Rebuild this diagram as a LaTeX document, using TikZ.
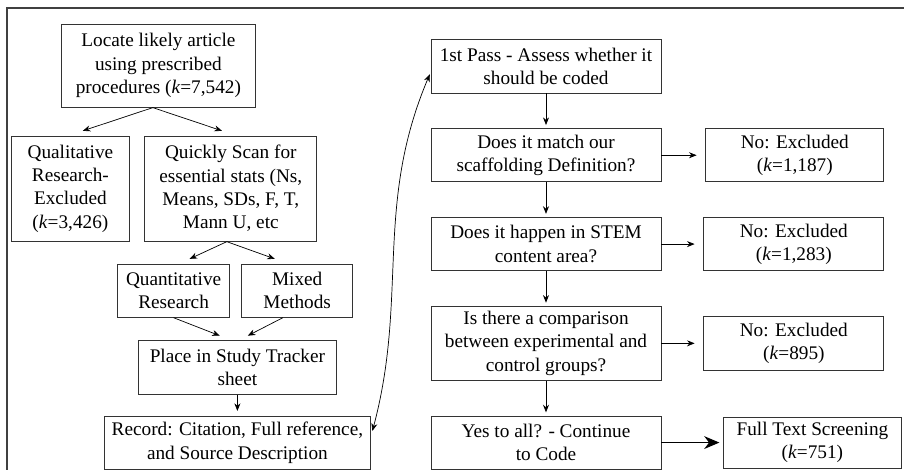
\documentclass[tikz,border=0pt]{standalone}
\usepackage{fontspec}
\setmainfont{Liberation Serif}
\usepackage{xcolor}
\usepackage{tikz}
\usetikzlibrary{arrows.meta,positioning,calc}

\begin{document}
\begin{tikzpicture}[
  node distance=8.7mm,
  box/.style={rectangle,draw=black!80,line width=0.6pt,align=center,inner sep=2pt,
    font=\fontsize{13.7}{16.6}\selectfont,minimum height=13.3mm},
  arr/.style={-{Stealth[length=1.9mm,width=1.5mm]},line width=0.5pt},
  bigarr/.style={-{Stealth[length=3.8mm,width=3.2mm,inset=1.2mm]},line width=0.9pt}
]
\useasboundingbox (0,0) rectangle (22.6,-11.75);
\coordinate (fbl) at (0.18,-11.8);
\coordinate (ftr) at (22.65,-0.2);
\draw[black!75,line width=1pt] (fbl) |- (ftr);

% left column
\node[box,minimum width=48.3mm,minimum height=20.8mm] (locate) at (3.96,-1.64)
  {Locate likely article\\using prescribed\\procedures (\textit{k}=7,542)};
\node[box,below=7mm of locate,xshift=-22mm,minimum width=29.3mm,minimum height=26.3mm] (qual)
  {Qualitative\\Research-\\Excluded\\(\textit{k}=3,426)};
\node[box,below=7mm of locate,xshift=18.1mm,minimum width=43mm,minimum height=26.3mm] (scan)
  {Quickly Scan for\\essential stats (Ns,\\Means, SDs, F, T,\\Mann U, etc};
\node[box,below=5.5mm of scan,xshift=-14.3mm,minimum width=28mm] (quant) {Quantitative\\Research};
\node[box,below=5.5mm of scan,xshift=16.6mm,minimum width=27.8mm] (mixed) {Mixed\\Methods};
\node[box,below=5.5mm of $(quant.south)!.5!(mixed.south)$,xshift=0.5mm,minimum width=49.3mm,minimum height=13.5mm] (place)
  {Place in Study Tracker\\sheet};
\node[box,below=5.3mm of place,minimum width=66.5mm] (record)
  {Record: Citation, Full reference,\\and Source Description};

% right column
\node[box,minimum width=57.5mm] (pass) at (13.65,-1.66) {1st Pass - Assess whether it\\should be coded};
\node[box,below=of pass,minimum width=57.5mm] (match) {Does it match our\\scaffolding Definition?};
\node[box,below=of match,minimum width=57.5mm] (stem) {Does it happen in STEM\\content area?};
\node[box,below=of stem,minimum width=57.5mm,minimum height=18.5mm] (comp)
  {Is there a comparison\\between experimental and\\control groups?};
\node[box,below=of comp,minimum width=57.5mm] (yes) {Yes to all? - Continue\\to Code};

\node[box,right=11mm of match,minimum width=44.5mm] (noa) {No: Excluded\\(\textit{k}=1,187)};
\node[box,right=10.5mm of stem,minimum width=45mm] (nob) {No: Excluded\\(\textit{k}=1,283)};
\node[box,right=10.5mm of comp,minimum width=45mm] (noc) {No: Excluded\\(\textit{k}=895)};
\node[box,right=15.5mm of yes,minimum width=44.3mm,minimum height=12.8mm] (full) {Full Text Screening\\(\textit{k}=751)};

\draw[arr] ([xshift=-1.4mm]locate.south) -- ([xshift=3.1mm,yshift=1.2mm]qual.north);
\draw[arr] ([xshift=-1.4mm]locate.south) -- ([xshift=-2.2mm,yshift=1.2mm]scan.north);
\draw[arr] ([xshift=-1mm]scan.south) -- ([xshift=4mm,yshift=1.2mm]quant.north);
\draw[arr] ([xshift=-1mm]scan.south) -- ([xshift=-5.6mm,yshift=1.2mm]mixed.north);
\draw[arr] (quant.south) -- ([xshift=-4.4mm,yshift=1mm]place.north);
\draw[arr] ([xshift=-3.6mm]mixed.south) -- ([xshift=2.6mm,yshift=1mm]place.north);
\draw[arr,shorten >=1.2mm] (place) -- (record);

\draw[arr,shorten >=0.8mm] (pass) -- (match);
\draw[arr,shorten >=0.8mm] (match) -- (stem);
\draw[arr,shorten >=0.8mm] (stem) -- (comp);
\draw[arr,shorten >=0.8mm] (comp) -- (yes);
\draw[arr,shorten >=2.2mm] (match) -- (noa);
\draw[arr,shorten >=2.2mm] (stem) -- (nob);
\draw[arr,shorten >=2.2mm] (comp) -- (noc);
\draw[bigarr,shorten >=1mm] (yes) -- (full);

\draw[arr,<->,>={Stealth[length=1.9mm,width=1.5mm]},shorten <=1.5mm,shorten >=0.5mm]
  ([yshift=1.5mm]record.east) to[out=75,in=247] ([yshift=-1.5mm]pass.west);
\end{tikzpicture}
\end{document}
